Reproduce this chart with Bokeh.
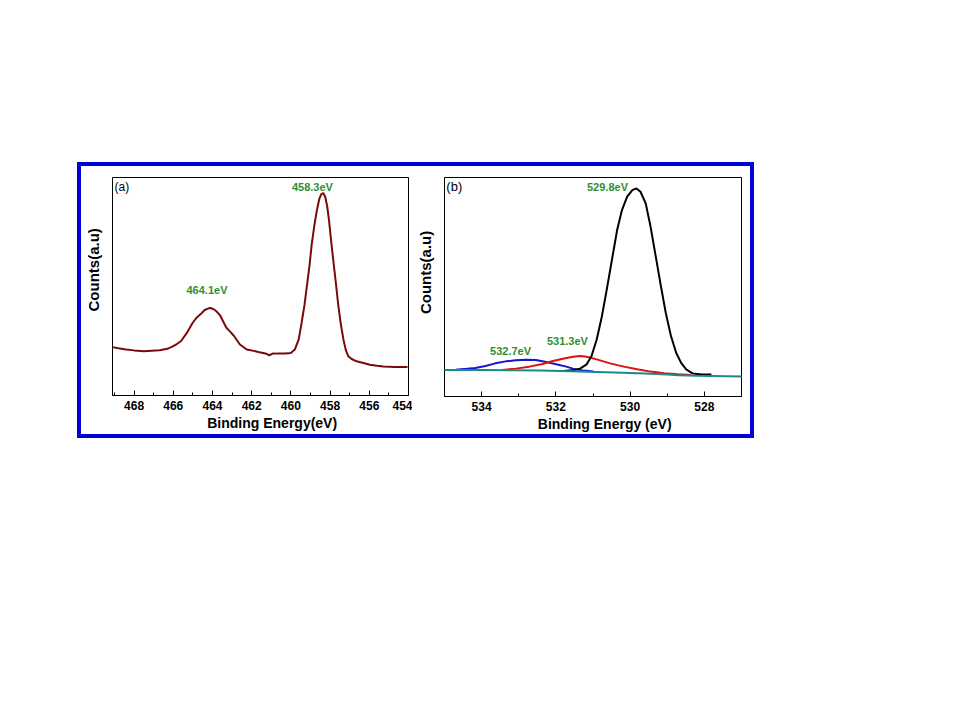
from bokeh.plotting import figure
from bokeh.models import Range1d, FixedTicker, Label
from bokeh.layouts import row
from bokeh.embed import file_html
from bokeh.resources import INLINE

# ---------------- Panel (a): Ti 2p ----------------
a_energy = [469.1, 468.8, 468.4, 468.0, 467.5, 467.1, 466.7, 466.3, 466.0, 465.8,
            465.6, 465.3, 465.0, 464.8, 464.6, 464.4, 464.2, 464.1, 463.9, 463.75,
            463.6, 463.3, 463.1, 462.9, 462.6, 462.25, 461.9, 461.6, 461.3, 461.1,
            460.9, 460.7, 460.3, 460.0, 459.8, 459.6, 459.45, 459.3, 459.2, 459.05,
            458.94, 458.8, 458.68, 458.55, 458.45, 458.35, 458.25, 458.15, 458.05, 457.95,
            457.83, 457.7, 457.58, 457.45, 457.32, 457.2, 457.07, 456.9, 456.65, 456.3,
            455.97, 455.6, 455.29, 454.7, 454.05]
a_counts = [47.7, 46.5, 45.3, 44.5, 43.7, 44.2, 44.7, 46.0, 48.7, 51.0,
            53.7, 62.0, 72.0, 77.0, 80.3, 84.3, 86.0, 86.3, 84.7, 82.0,
            78.7, 67.0, 63.0, 58.7, 50.3, 45.3, 44.0, 42.7, 41.5, 39.7,
            41.5, 41.3, 41.5, 42.0, 45.3, 55.3, 72.0, 90.0, 105.3, 128.0,
            148.7, 168.0, 182.0, 194.0, 198.5, 199.7, 196.0, 187.0, 172.0, 153.0,
            132.0, 110.0, 88.7, 70.0, 55.3, 45.0, 38.7, 36.0, 33.7, 32.0,
            30.3, 29.3, 28.7, 28.2, 28.0]
a_ticks = [468, 466, 464, 462, 460, 458, 456, 454]
a_minor = [469, 467, 465, 463, 461, 459, 457, 455]

# ---------------- Panel (b): O 1s ----------------
b_base_energy = [535.05, 533.9, 533.2, 532.4, 531.6, 530.9, 530.2, 529.6, 529.0, 528.7, 528.2, 526.95]
b_base_counts = [26.7, 26.7, 26.4, 26.0, 25.4, 24.7, 23.8, 23.0, 22.2, 21.3, 20.8, 20.0]

b_blue_energy = [534.7, 534.4, 534.17, 533.9, 533.63, 533.35, 533.08, 532.81, 532.54,
                 532.26, 531.99, 531.72, 531.54, 531.26, 530.99]
b_blue_counts = [27.0, 27.8, 28.7, 30.7, 33.3, 35.3, 36.3, 37.0, 36.7,
                 34.7, 32.3, 30.0, 28.0, 26.0, 25.0]

b_red_energy = [533.45, 533.08, 532.72, 532.36, 532.08, 531.81, 531.54, 531.35, 531.17,
                530.90, 530.54, 530.17, 529.81, 529.45, 529.08, 528.72, 528.36]
b_red_counts = [26.7, 28.0, 30.0, 32.7, 35.7, 38.0, 40.0, 40.7, 40.0,
                37.3, 33.3, 30.0, 27.3, 25.0, 23.3, 22.3, 21.7]

b_black_energy = [531.8, 531.5, 531.35, 531.17, 531.04, 530.90, 530.76, 530.63, 530.49,
                  530.35, 530.22, 530.08, 529.94, 529.83, 529.72, 529.58, 529.45, 529.31,
                  529.17, 529.04, 528.90, 528.76, 528.63, 528.49, 528.31, 528.08, 527.81]
b_black_counts = [25.6, 26.6, 28.0, 32.3, 40.7, 57.3, 80.7, 107.3, 137.3,
                  167.3, 187.3, 200.7, 207.3, 209.0, 205.7, 194.0, 170.7, 140.7,
                  110.7, 84.0, 60.7, 44.0, 34.0, 27.3, 23.0, 22.0, 22.0]
b_ticks = [534, 532, 530, 528]
b_minor = [535, 533, 531, 529, 527]

a_peak_labels = ["464.1eV", "458.3eV"]
b_peak_labels = ["529.8eV", "531.3eV", "532.7eV"]

FONT = "Liberation Sans"
GREEN = "#2f8f2f"
NB = "\u00a0"


def style(p, ticks, minor, xlabel, ylabel):
    p.grid.visible = False
    p.outline_line_color = "black"
    p.outline_line_alpha = 1.0
    p.outline_line_width = 1
    p.background_fill_color = "white"
    p.border_fill_color = "white"

    ax = p.xaxis[0]
    ax.ticker = FixedTicker(ticks=ticks, minor_ticks=minor)
    ax.axis_line_color = "black"
    ax.major_tick_in = 5
    ax.major_tick_out = 0
    ax.minor_tick_in = 3
    ax.minor_tick_out = 0
    ax.major_tick_line_color = "black"
    ax.minor_tick_line_color = "black"
    ax.major_label_text_font = FONT
    ax.major_label_text_font_style = "bold"
    ax.major_label_text_font_size = "12px"
    ax.major_label_text_color = "black"
    ax.major_label_standoff = 5
    ax.axis_label = xlabel
    ax.axis_label_text_font = FONT
    ax.axis_label_text_font_style = "bold"
    ax.axis_label_text_font_size = "14px"
    ax.axis_label_text_color = "black"
    ax.axis_label_standoff = 2

    ay = p.yaxis[0]
    ay.ticker = FixedTicker(ticks=[], minor_ticks=[])
    ay.axis_line_color = None
    ay.major_tick_in = 0
    ay.major_tick_out = 0
    ay.minor_tick_in = 0
    ay.minor_tick_out = 0
    ay.major_label_standoff = 0
    ay.axis_label = ylabel
    ay.axis_label_text_font = FONT
    ay.axis_label_text_font_style = "bold"
    ay.axis_label_text_font_size = "15px"
    ay.axis_label_text_color = "black"
    ay.axis_label_standoff = 11


def add_label(p, x, y, text, size, color="black", bold=True, align="center",
              baseline="middle"):
    p.add_layout(Label(x=x, y=y, text=text, text_font=FONT, text_font_size=size,
                       text_font_style="bold" if bold else "normal", text_color=color,
                       text_align=align, text_baseline=baseline))


# ---- figure a
pa = figure(frame_width=296, frame_height=218, min_border_left=31, min_border_right=4,
            min_border_top=10, min_border_bottom=39,
            x_range=Range1d(469.1, 454), y_range=Range1d(0, 215),
            output_backend="svg", toolbar_location=None)
style(pa, a_ticks, a_minor, NB * 6 + "Binding Energy(eV)", NB * 8 + "Counts(a.u)")
pa.line(a_energy, a_counts, line_color="#7a0a0a", line_width=2)
add_label(pa, 469.0, 213, "(a)", "12px", bold=False, align="left", baseline="top")
add_label(pa, 464.28, 104, a_peak_labels[0], "11px", color=GREEN)
add_label(pa, 458.9, 206, a_peak_labels[1], "11px", color=GREEN)

# ---- figure b
pb = figure(frame_width=297, frame_height=219, min_border_left=32, min_border_right=9,
            min_border_top=11, min_border_bottom=37,
            x_range=Range1d(535, 527), y_range=Range1d(0, 220),
            output_backend="svg", toolbar_location=None)
style(pb, b_ticks, b_minor, NB * 6 + "Binding Energy (eV)", NB * 7 + "Counts(a.u)")
pb.line(b_blue_energy, b_blue_counts, line_color="#1515d0", line_width=2)
pb.line(b_red_energy, b_red_counts, line_color="#e01010", line_width=2)
pb.line(b_black_energy, b_black_counts, line_color="black", line_width=2)
pb.line(b_base_energy, b_base_counts, line_color="#1a8a8a", line_width=2)
add_label(pb, 534.95, 218, "(b)", "13px", bold=False, align="left", baseline="top")
add_label(pb, 530.61, 210.7, b_peak_labels[0], "11px", color=GREEN)
add_label(pb, 531.69, 55.7, b_peak_labels[1], "11px", color=GREEN)
add_label(pb, 533.22, 45.7, b_peak_labels[2], "11px", color=GREEN)

layout = row(pa, pb)
layout.margin = (166, 0, 0, 81)
layout.styles = {"outline": "4px solid #0000d8"}

open("out.html", "w").write(file_html(layout, INLINE))
